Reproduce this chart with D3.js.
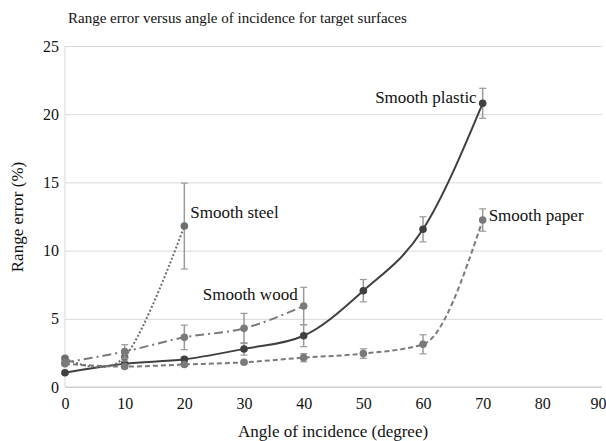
<!DOCTYPE html>
<html><head><meta charset="utf-8">
<script src="https://cdn.jsdelivr.net/npm/d3@7"></script>
</head>
<body style="margin:0;background:#fff"><svg id="c" width="606" height="441"></svg>
<script>
// ---- data ----
const title = "Range error versus angle of incidence for target surfaces";
const xTitle = "Angle of incidence (degree)";
const yTitle = "Range error (%)";
const xTicks = [0,10,20,30,40,50,60,70,80,90];
const yTicks = [0,5,10,15,20,25];

const plasticX = [0,10,20,30,40,50,60,70];
const plasticY = [1.05,1.7,2.03,2.79,3.76,7.06,11.56,20.8];
const plasticE = [0.1,0.15,0.15,0.45,0.8,0.82,0.92,1.1];

const paperX = [0,10,20,30,40,50,60,70];
const paperY = [1.7,1.5,1.65,1.81,2.15,2.45,3.13,12.24];
const paperE = [0.1,0.1,0.1,0.1,0.3,0.35,0.7,0.82];

const steelX = [0,10,20];
const steelY = [2.1,2.2,11.8];
const steelE = [0.1,0.3,3.15];

const woodX = [0,10,20,30,40];
const woodY = [1.8,2.6,3.64,4.3,5.94];
const woodE = [0.1,0.5,0.9,1.1,1.37];

const seriesNames = ["Smooth plastic","Smooth paper","Smooth steel","Smooth wood"];

// ---- build ----
const FONT = '"Liberation Serif"';
const mk = (xs,ys,es)=>xs.map((x,i)=>({x:x,y:ys[i],e:es[i]}));
const series = [
  {name:seriesNames[0], pts:mk(plasticX,plasticY,plasticE), color:"#404040", dash:null, curve:d3.curveMonotoneX, lab:{dx:-6,dy:-6,anchor:"end"}},
  {name:seriesNames[1], pts:mk(paperX,paperY,paperE), color:"#7a7a7a", dash:"5,3", curve:d3.curveMonotoneX, lab:{dx:6,dy:-5,anchor:"start"}},
  {name:seriesNames[2], pts:mk(steelX,steelY,steelE), color:"#6e6e6e", dash:"2,2", curve:d3.curveCardinal.tension(0), lab:{dx:6,dy:-14,anchor:"start"}},
  {name:seriesNames[3], pts:mk(woodX,woodY,woodE), color:"#7a7a7a", dash:"9,4,2,4", curve:d3.curveMonotoneX, lab:{dx:-6,dy:-12,anchor:"end"}}
];

const svg = d3.select("#c");
const x = d3.scaleLinear().domain([0,90]).range([65,602]);
const y = d3.scaleLinear().domain([0,25]).range([387,46]);

// gridlines
const grid = svg.append("g").attr("transform","translate(65,0)")
  .call(d3.axisLeft(y).tickValues(yTicks).tickSize(-(602-65)).tickFormat(""));
grid.select(".domain").remove();
grid.selectAll(".tick line").attr("stroke","#d9d9d9").attr("stroke-width",1);
svg.append("line").attr("x1",65).attr("x2",65).attr("y1",y(25)).attr("y2",y(0)).attr("stroke","#d9d9d9");
svg.append("line").attr("x1",65).attr("x2",602).attr("y1",y(0)).attr("y2",y(0)).attr("stroke","#c8c8c8");

// y tick labels
const ya = svg.append("g").attr("transform","translate(59,0)")
  .call(d3.axisLeft(y).tickValues(yTicks).tickSize(0).tickPadding(0));
ya.select(".domain").remove();
ya.selectAll("text").style("font-family",FONT).style("font-size","16px").attr("fill","#111");

// x tick labels
const xa = svg.append("g").attr("transform","translate(0,398)")
  .call(d3.axisBottom(x).tickValues(xTicks).tickSize(0).tickPadding(0));
xa.select(".domain").remove();
xa.selectAll("text").style("font-family",FONT).style("font-size","16px").attr("fill","#111");
xa.selectAll(".tick").filter(d=>d===90).select("text").attr("dx",-4);

series.forEach(s=>{
  const g = svg.append("g");
  s.pts.forEach(p=>{
    const t = y(p.y+p.e), b = y(p.y-p.e), cx = x(p.x);
    g.append("line").attr("x1",cx).attr("x2",cx).attr("y1",t).attr("y2",b)
      .attr("stroke","#9a9a9a").attr("stroke-width",1.5);
    [t,b].forEach(yy=>g.append("line").attr("x1",cx-3.5).attr("x2",cx+3.5).attr("y1",yy).attr("y2",yy)
      .attr("stroke","#9a9a9a").attr("stroke-width",1.2));
  });
  const line = d3.line().x(d=>x(d.x)).y(d=>y(d.y)).curve(s.curve);
  g.append("path").attr("d",line(s.pts)).attr("fill","none").attr("stroke",s.color)
    .attr("stroke-width",2).attr("stroke-dasharray",s.dash);
  g.selectAll("circle").data(s.pts).join("circle")
    .attr("cx",d=>x(d.x)).attr("cy",d=>y(d.y)).attr("r",3.8).attr("fill",s.color);
});
series.forEach(s=>{
  const p = s.pts[s.pts.length-1];
  svg.append("text").attr("x",x(p.x)+s.lab.dx).attr("y",y(p.y)+s.lab.dy)
    .attr("dy","0.35em").attr("text-anchor",s.lab.anchor).attr("fill","#111")
    .style("font-family",FONT).style("font-size","17px").text(s.name);
});

svg.append("text").attr("x",68).attr("y",23).attr("fill","#111")
  .style("font-family",FONT).style("font-size","15px").text(title);
svg.append("text").attr("x",333).attr("y",437).attr("text-anchor","middle").attr("fill","#111")
  .style("font-family",FONT).style("font-size","17px").text(xTitle);
svg.append("text").attr("transform","translate(23,217) rotate(-90)").attr("text-anchor","middle").attr("fill","#111")
  .style("font-family",FONT).style("font-size","17px").text(yTitle);
</script></body></html>
